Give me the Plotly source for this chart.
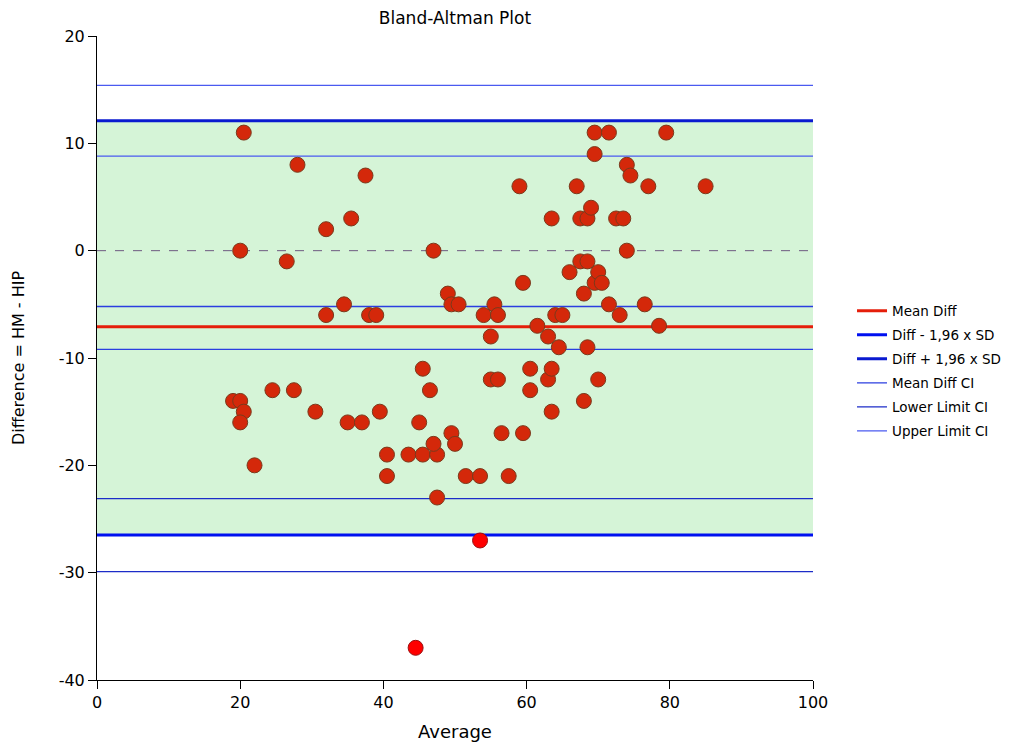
import plotly.graph_objects as go

# Bland-Altman data: average of the two methods and their difference (HM - HIP)
avg = [20.5, 20, 28, 26.5, 32, 37.5, 35.5, 32, 34.5, 38, 39, 19, 20, 20.5, 20,
       24.5, 27.5, 30.5, 22, 35, 37, 39.5, 40.5, 40.5, 43.5, 45.5, 47.5, 47.5,
       47, 45, 45.5, 46.5, 47, 49, 49.5, 50.5, 49.5, 50, 51.5, 53.5, 54, 55,
       55.5, 56, 55, 56, 56.5, 57.5, 59.5, 59, 59.5, 60.5, 60.5, 61.5, 63, 63,
       63.5, 63.5, 63.5, 64, 64.5, 65, 66, 67, 67.5, 67.5, 68, 68.5, 68.5,
       68.5, 68, 69, 69.5, 69.5, 69.5, 70, 70.5, 70, 71.5, 71.5, 72.5, 73,
       73.5, 74, 74.5, 74, 76.5, 77, 78.5, 79.5, 85]
diff = [11, 0, 8, -1, 2, 7, 3, -6, -5, -6, -6, -14, -14, -15, -16,
        -13, -13, -15, -20, -16, -16, -15, -19, -21, -19, -19, -19, -23,
        -18, -16, -11, -13, 0, -4, -5, -5, -17, -18, -21, -21, -6, -8,
        -5, -6, -12, -12, -17, -21, -17, 6, -3, -11, -13, -7, -8, -12,
        -11, -15, 3, -6, -9, -6, -2, 6, 3, -1, -4, 3, -1,
        -9, -14, 4, 11, 9, -3, -2, -3, -12, -5, 11, 3, -6,
        3, 8, 7, 0, -5, 6, -7, 11, 6]

# points outside the limits of agreement
out_avg = [53.5, 44.5]
out_diff = [-27, -37]

mean_diff = -7.1
lower_limit = -26.5
upper_limit = 12.1
mean_ci = [-5.2, -9.2]
lower_ci = [-23.1, -29.9]
upper_ci = [15.4, 8.8]

x_range = [0, 100]
y_range = [-40, 20]
y_ticks = [-40, -30, -20, -10, 0, 10, 20]
y_tick_labels = ["-40", "-30", "-20", "-10", "0", "10", "20"]
font = "DejaVu Sans, Verdana, sans-serif"

fig = go.Figure()

# agreement band
fig.add_shape(type="rect", xref="x", yref="y", x0=x_range[0], x1=x_range[1],
              y0=lower_limit, y1=upper_limit, fillcolor="#d5f4d7",
              line_width=0, layer="below")

# zero reference
fig.add_trace(go.Scatter(x=x_range, y=[0, 0], mode="lines", showlegend=False,
                         line=dict(color="#6e5a80", width=1, dash="dash"),
                         hoverinfo="skip"))


def hline(y, color, width, name, legend):
    fig.add_trace(go.Scatter(x=x_range, y=[y, y], mode="lines", name=name,
                             showlegend=legend, legendgroup=name,
                             line=dict(color=color, width=width)))


hline(mean_diff, "#e51e0a", 3, "Mean Diff", True)
hline(lower_limit, "#0010f0", 3, "Diff - 1,96 x SD", True)
hline(upper_limit, "#0a1ad0", 3, "Diff + 1,96 x SD", True)
for i, v in enumerate(mean_ci):
    hline(v, "#2b3ee0", 1.3, "Mean Diff CI", i == 0)
for i, v in enumerate(lower_ci):
    hline(v, "#1c2cc8", 1.3, "Lower Limit CI", i == 0)
for i, v in enumerate(upper_ci):
    hline(v, "#4a5af0", 1.3, "Upper Limit CI", i == 0)

fig.add_trace(go.Scatter(x=avg, y=diff, mode="markers", showlegend=False,
                         marker=dict(size=15, color="#d4280a",
                                     line=dict(color="#7a3a1c", width=1))))
fig.add_trace(go.Scatter(x=out_avg, y=out_diff, mode="markers", showlegend=False,
                         marker=dict(size=15, color="#ff0000",
                                     line=dict(color="#9a1010", width=1))))

# the page body has an 8px margin, so the figure is 8px smaller than the window
fig.update_layout(
    width=1006, height=748,
    margin=dict(l=89, r=201, t=28, b=76, autoexpand=False),
    plot_bgcolor="white", paper_bgcolor="white",
    font=dict(family=font, color="black", size=16),
    title=dict(text="Bland-Altman Plot", x=(89 + 805) / 2 / 1006, xanchor="center",
               y=1 - 4 / 748, yanchor="top", font=dict(size=17)),
    legend=dict(x=0.0545 + 1, xanchor="left", y=0.48, yanchor="middle",
                font=dict(size=13.5), tracegroupgap=3.5, itemwidth=30,
                bgcolor="rgba(0,0,0,0)"),
)
fig.update_xaxes(range=x_range, dtick=20, showgrid=False, zeroline=False,
                 showline=True, linecolor="black", linewidth=1,
                 ticks="outside", ticklen=8, tickcolor="black",
                 title=dict(text="Average", font=dict(size=18), standoff=14))
fig.update_yaxes(range=y_range, tickvals=y_ticks, ticktext=y_tick_labels,
                 showgrid=False, zeroline=False,
                 showline=True, linecolor="black", linewidth=1,
                 ticks="outside", ticklen=8, tickcolor="black",
                 title=dict(text="Difference = HM - HIP", font=dict(size=16), standoff=30))

fig.write_html("out.html")
